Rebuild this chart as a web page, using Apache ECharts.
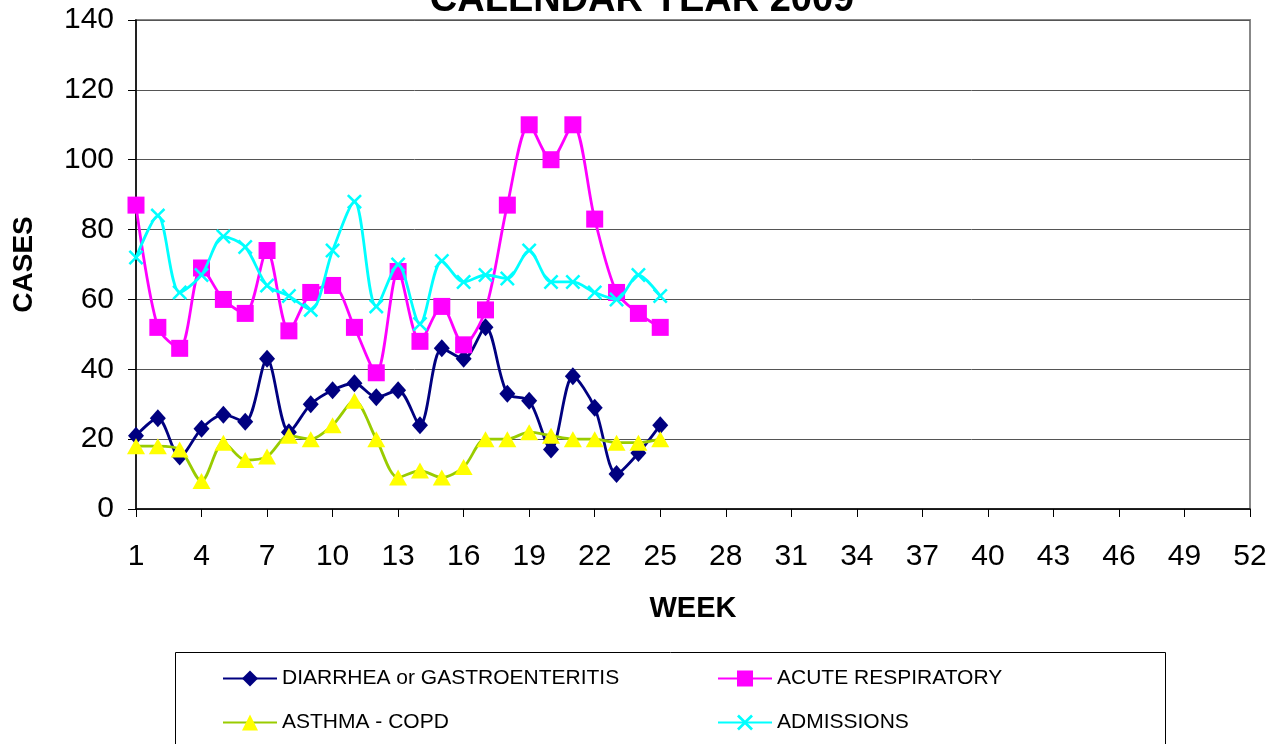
<!DOCTYPE html>
<html>
<head>
<meta charset="utf-8">
<title>Calendar Year 2009</title>
<script src="https://cdn.jsdelivr.net/npm/echarts@6/dist/echarts.min.js"></script>
<style>
  html, body { margin: 0; padding: 0; background: #fff; }
  #main { width: 1284px; height: 744px; }
</style>
</head>
<body>
<div id="main"></div>
<script>
// weeks 1..52 on the x axis
var weeks = [];
for (var w = 1; w <= 52; w++) weeks.push(String(w));

// weekly counts, weeks 1-25
var diarrhea    = [21, 26, 15, 23, 27, 25, 43, 22, 30, 34, 36, 32, 34, 24, 46, 43, 52, 33, 31, 17, 38, 29, 10, 16, 24];
var respiratory = [87, 52, 46, 69, 60, 56, 74, 51, 62, 64, 52, 39, 68, 48, 58, 47, 57, 87, 110, 100, 110, 83, 62, 56, 52];
var asthma      = [18, 18, 17, 8, 19, 14, 15, 21, 20, 24, 31, 20, 9, 11, 9, 12, 20, 20, 22, 21, 20, 20, 19, 19, 20];
var admissions  = [72, 84, 62, 67, 78, 75, 64, 61, 57, 74, 88, 58, 70, 53, 71, 65, 67, 66, 74, 65, 65, 62, 60, 67, 61];

var FONT = '"Liberation Sans", Arial, sans-serif';
var xMark = 'path://M0,1.2L1.2,0L5,3.8L8.8,0L10,1.2L6.2,5L10,8.8L8.8,10L5,6.2L1.2,10L0,8.8L3.8,5Z';

var chart = echarts.init(document.getElementById('main'));

var legendText = { fontFamily: FONT, fontSize: 21, color: '#000' };

var option = {
  backgroundColor: '#fff',
  animation: false,
  title: {
    text: 'CALENDAR YEAR 2009',
    left: 'center',
    top: -23,
    textStyle: { fontFamily: FONT, fontSize: 38, fontWeight: 'bold', color: '#000' }
  },
  grid: {
    left: 136, right: 34, top: 20, bottom: 235,
    show: true, borderColor: '#888', borderWidth: 2,
    outerBoundsMode: 'none'
  },
  legend: [
    {
      data: ['DIARRHEA or GASTROENTERITIS', 'ASTHMA - COPD'],
      orient: 'vertical',
      left: 217, top: 663,
      itemWidth: 54, itemHeight: 20, itemGap: 23,
      textStyle: legendText
    },
    {
      data: ['ACUTE RESPIRATORY', 'ADMISSIONS'],
      orient: 'vertical',
      left: 712, top: 663,
      itemWidth: 54, itemHeight: 20, itemGap: 23,
      textStyle: legendText
    }
  ],
  graphic: [
    {
      type: 'rect',
      shape: { x: 175.5, y: 652.5, width: 990, height: 120 },
      style: { fill: 'none', stroke: '#000', lineWidth: 1 },
      z: -1
    }
  ],
  xAxis: {
    type: 'category',
    data: weeks,
    boundaryGap: false,
    name: 'WEEK',
    nameLocation: 'middle',
    nameGap: 85,
    nameTextStyle: { fontFamily: FONT, fontSize: 29, fontWeight: 'bold', color: '#000' },
    axisLine: { lineStyle: { color: '#000', width: 1.5 } },
    axisTick: { show: true, interval: 2, length: 8, lineStyle: { color: '#000' } },
    axisLabel: { interval: 2, margin: 33, fontFamily: FONT, fontSize: 30, color: '#000' },
    splitLine: { show: false }
  },
  yAxis: {
    type: 'value',
    min: 0, max: 140, interval: 20,
    name: 'CASES',
    nameLocation: 'middle',
    nameRotate: 90,
    nameGap: 98,
    nameTextStyle: { fontFamily: FONT, fontSize: 28, fontWeight: 'bold', color: '#000' },
    axisLine: { show: true, lineStyle: { color: '#000', width: 1.5 } },
    axisTick: { show: true, length: 8, lineStyle: { color: '#000' } },
    axisLabel: { margin: 22, fontFamily: FONT, fontSize: 30, color: '#000' },
    splitLine: { lineStyle: { color: '#555', width: 1 } }
  },
  series: [
    {
      name: 'DIARRHEA or GASTROENTERITIS',
      type: 'line',
      data: diarrhea,
      smooth: 0.3,
      showAllSymbol: true,
      symbol: 'diamond',
      symbolSize: [16, 18],
      lineStyle: { color: '#000080', width: 2.8 },
      itemStyle: { color: '#000080' },
      z: 3
    },
    {
      name: 'ACUTE RESPIRATORY',
      type: 'line',
      data: respiratory,
      smooth: 0.3,
      showAllSymbol: true,
      symbol: 'rect',
      symbolSize: 17,
      lineStyle: { color: '#FF00FF', width: 2.8 },
      itemStyle: { color: '#FF00FF' },
      z: 4
    },
    {
      name: 'ASTHMA - COPD',
      type: 'line',
      data: asthma,
      smooth: 0.3,
      showAllSymbol: true,
      symbol: 'triangle',
      symbolSize: [18, 16],
      lineStyle: { color: '#99CC00', width: 2.8 },
      itemStyle: { color: '#FFFF00' },
      z: 5
    },
    {
      name: 'ADMISSIONS',
      type: 'line',
      data: admissions,
      smooth: 0.3,
      showAllSymbol: true,
      symbol: xMark,
      symbolSize: 15,
      lineStyle: { color: '#00FFFF', width: 2.8 },
      itemStyle: { color: '#00FFFF' },
      z: 6
    }
  ]
};

chart.setOption(option);
</script>
</body>
</html>
